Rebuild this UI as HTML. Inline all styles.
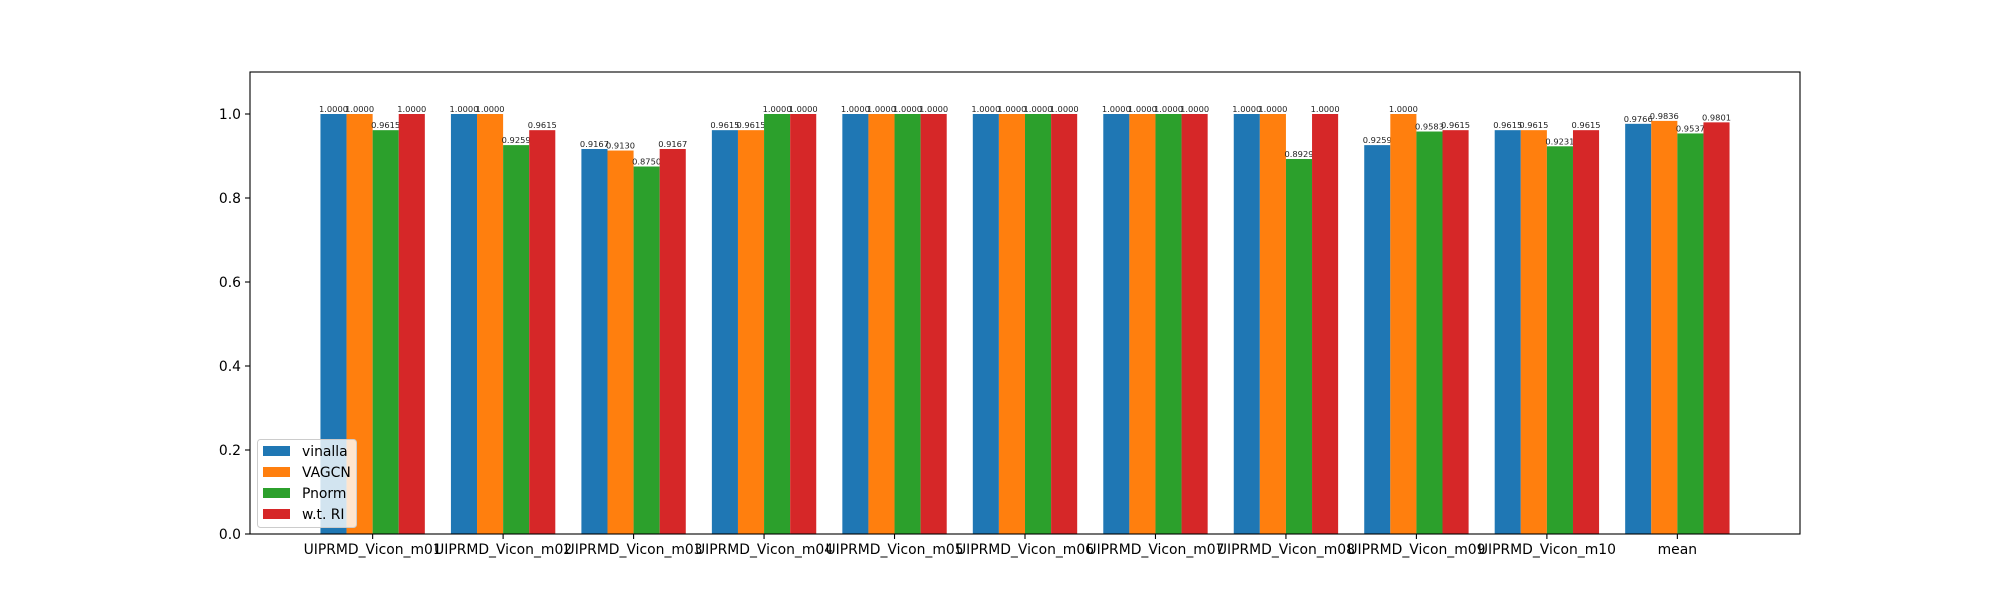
<!DOCTYPE html>
<html><head><meta charset="utf-8"><style>
body{margin:0;background:#fff;}
svg text{font-family:"DejaVu Sans","Liberation Sans",sans-serif;}
</style></head><body>
<svg id="chart" width="2000" height="600" xmlns="http://www.w3.org/2000/svg"></svg>
<script>
const categories=["UIPRMD_Vicon_m01","UIPRMD_Vicon_m02","UIPRMD_Vicon_m03","UIPRMD_Vicon_m04","UIPRMD_Vicon_m05","UIPRMD_Vicon_m06","UIPRMD_Vicon_m07","UIPRMD_Vicon_m08","UIPRMD_Vicon_m09","UIPRMD_Vicon_m10","mean"];
const seriesNames=["vinalla","VAGCN","Pnorm","w.t. RI"];
const vinalla=[1,1,0.9167,0.9615,1,1,1,1,0.9259,0.9615,0.9766];
const vagcn=[1,1,0.9130,0.9615,1,1,1,1,1,0.9615,0.9836];
const pnorm=[0.9615,0.9259,0.8750,1,1,1,1,0.8929,0.9583,0.9231,0.9537];
const wtri=[1,0.9615,0.9167,1,1,1,1,1,0.9615,0.9615,0.9801];
const yTicks=[0,0.2,0.4,0.6,0.8,1.0];
const colors=["#1f77b4","#ff7f0e","#2ca02c","#d62728"];
const series=[vinalla,vagcn,pnorm,wtri];

const NS="http://www.w3.org/2000/svg";
const svg=document.getElementById('chart');
const L=250,R=1800,T=72,B=534;
const xmin=-0.94,xmax=categories.length-1+0.94;
const ymax=1.1;
const xs=v=>L+(v-xmin)/(xmax-xmin)*(R-L);
const ys=v=>B-v/ymax*(B-T);
function mk(tag,attrs,parent){const e=document.createElementNS(NS,tag);for(const k in attrs)e.setAttribute(k,attrs[k]);(parent||svg).appendChild(e);return e;}

const bw=0.2;
series.forEach((s,si)=>{
  s.forEach((v,i)=>{
    const c=i+(si-1.5)*bw;
    const x0=xs(c-bw/2),x1=xs(c+bw/2);
    const r=mk('rect',{x:x0,y:ys(v),width:x1-x0,height:B-ys(v),fill:colors[si]});
    
    
    const t=mk('text',{x:xs(c),y:ys(v)-2,'font-size':8.3,'text-anchor':'middle',fill:'#222'});
    t.textContent=v.toFixed(4);
    
    
  });
});

// axes frame
const fr=mk('rect',{x:L,y:T,width:R-L,height:B-T,fill:'none',stroke:'#000','stroke-width':1.1});



yTicks.forEach(v=>{
  mk('line',{x1:L-5,x2:L,y1:ys(v),y2:ys(v),stroke:'#000','stroke-width':1.1});
  const t=mk('text',{x:L-9,y:ys(v)+5,'font-size':13.9,'text-anchor':'end',fill:'#000'});
  t.textContent=v.toFixed(1);
  
  
});
categories.forEach((c,i)=>{
  mk('line',{x1:xs(i),x2:xs(i),y1:B,y2:B+5,stroke:'#000','stroke-width':1.1});
  const t=mk('text',{x:xs(i),y:B+20,'font-size':13.9,'text-anchor':'middle',fill:'#000'});
  t.textContent=c;
  
  
});

// legend
const lg=mk('g',{});


mk('rect',{x:257.5,y:439.5,width:99,height:88,rx:3,fill:'rgba(255,255,255,0.8)',stroke:'#ccc'},lg);
seriesNames.forEach((n,i)=>{
  const y=451+i*21;
  mk('rect',{x:263,y:y-5,width:27,height:10,fill:colors[i]},lg);
  const t=mk('text',{x:302,y:y+5,'font-size':13.9,fill:'#000'},lg);
  t.textContent=n;
  
  
});
</script>
</body></html>
